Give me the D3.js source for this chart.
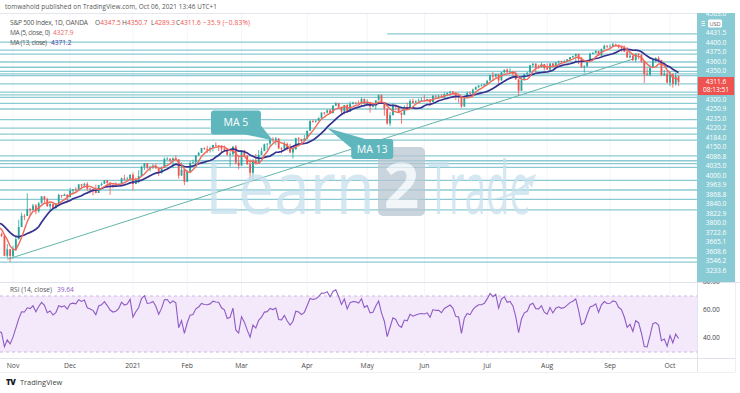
<!DOCTYPE html>
<html><head><meta charset="utf-8">
<script src="https://cdn.jsdelivr.net/npm/d3@7"></script>
<style>html,body{margin:0;padding:0;background:#fff;overflow:hidden}svg{display:block;font-family:"Open Sans",Roboto,"DejaVu Sans",sans-serif}</style>
</head><body><svg id="c" width="740" height="393"></svg>
<script>
// ---------- DATA ----------
const months = ["2020-09","2020-10","2020-11","2020-12","2021-01","2021-02","2021-03","2021-04","2021-05","2021-06","2021-07","2021-08","2021-09","2021-10"];
const tradingDays = [
 [1,2,3,4,8,9,10,11,14,15,16,17,18,21,22,23,24,25,28,29,30],
 [1,2,5,6,7,8,9,12,13,14,15,16,19,20,21,22,23,26,27,28,29,30],
 [2,3,4,5,6,9,10,11,12,13,16,17,18,19,20,23,24,25,27,30],
 [1,2,3,4,7,8,9,10,11,14,15,16,17,18,21,22,23,24,28,29,30,31],
 [4,5,6,7,8,11,12,13,14,15,19,20,21,22,25,26,27,28,29],
 [1,2,3,4,5,8,9,10,11,12,16,17,18,19,22,23,24,25,26],
 [1,2,3,4,5,8,9,10,11,12,15,16,17,18,19,22,23,24,25,26,29,30,31],
 [1,5,6,7,8,9,12,13,14,15,16,19,20,21,22,23,26,27,28,29,30],
 [3,4,5,6,7,10,11,12,13,14,17,18,19,20,21,24,25,26,27,28],
 [1,2,3,4,7,8,9,10,11,14,15,16,17,18,21,22,23,24,25,28,29,30],
 [1,2,6,7,8,9,12,13,14,15,16,19,20,21,22,23,26,27,28,29,30],
 [2,3,4,5,6,9,10,11,12,13,16,17,18,19,20,23,24,25,26,27,30,31],
 [1,2,3,7,8,9,10,13,14,15,16,17,20,21,22,23,24,27,28,29,30],
 [1,4,5,6]
];
const closes = [
 3526,3580,3455,3427,3331,3399,3339,3341,3383,3401,3385,3357,3319,3281,3315,3237,3247,3298,3351,3335,3363,
 3381,3348,3408,3361,3419,3446,3477,3534,3512,3489,3483,3483,3427,3443,3436,3453,3465,3401,3391,3271,3310,3270,
 3310,3370,3443,3510,3509,3550,3545,3572,3537,3585,3627,3610,3567,3582,3558,3577,3635,3629,3638,3622,
 3662,3669,3666,3699,3692,3702,3673,3668,3663,3647,3695,3702,3722,3709,3694,3687,3691,3703,3735,3727,3732,3756,
 3701,3726,3748,3804,3825,3799,3801,3810,3795,3768,3798,3851,3853,3841,3855,3849,3751,3787,3714,
 3774,3826,3830,3872,3887,3916,3911,3910,3916,3935,3932,3931,3913,3906,3876,3881,3925,3829,3811,
 3901,3870,3820,3768,3842,3821,3875,3898,3939,3943,3969,3963,3974,3915,3913,3941,3911,3889,3910,3975,3971,3959,3973,
 4020,4078,4074,4080,4097,4129,4128,4142,4125,4170,4185,4163,4135,4174,4135,4180,4188,4187,4183,4211,4181,
 4192,4165,4168,4202,4233,4189,4152,4063,4113,4174,4164,4128,4116,4160,4156,4198,4188,4196,4201,4204,
 4202,4208,4192,4230,4227,4228,4220,4239,4247,4255,4247,4224,4222,4166,4224,4246,4242,4266,4281,4291,4291,4298,
 4320,4352,4344,4358,4321,4370,4385,4369,4374,4361,4327,4259,4323,4359,4368,4412,4422,4401,4400,4419,4395,
 4387,4423,4403,4429,4437,4432,4436,4448,4461,4468,4480,4449,4400,4406,4442,4480,4486,4497,4470,4509,4529,4523,
 4524,4537,4535,4520,4514,4493,4459,4469,4443,4481,4474,4433,4358,4355,4396,4449,4455,4443,4353,4360,4308,
 4357,4301,4346,4311.6
];
// candles are shown from this date on (highs / lows listed from it)
const candleStart = "2020-10-26";
const highs = [
 3466,3410,3392,3342,3312,
 3331,3389,3486,3529,3521,3645,3557,3582,3581,3593,3628,3623,3619,3585,3582,3589,3643,3635,3644,3638,
 3678,3670,3682,3699,3700,3708,3712,3678,3670,3697,3695,3711,3725,3726,3712,3698,3711,3703,3740,3756,3744,3760,
 3770,3739,3783,3811,3826,3818,3811,3820,3823,3797,3805,3860,3862,3852,3860,3871,3850,3830,3786,
 3784,3836,3847,3872,3894,3917,3920,3930,3925,3935,3950,3933,3931,3932,3917,3895,3928,3934,3862,
 3904,3906,3875,3849,3851,3881,3904,3918,3943,3944,3970,3982,3983,3970,3922,3956,3949,3942,3919,3978,3982,3969,3994,
 4020,4084,4087,4087,4099,4129,4131,4148,4151,4173,4191,4180,4164,4175,4179,4195,4194,4193,4201,4218,4212,
 4209,4193,4187,4202,4238,4237,4190,4153,4131,4183,4175,4170,4129,4172,4188,4210,4213,4202,4213,4218,
 4234,4213,4208,4233,4232,4237,4238,4250,4249,4256,4257,4252,4232,4223,4226,4256,4256,4273,4286,4292,4300,4302,
 4321,4356,4372,4361,4358,4372,4386,4393,4394,4376,4376,4327,4337,4360,4370,4415,4423,4423,4416,4430,4420,
 4423,4424,4424,4430,4440,4440,4446,4449,4461,4469,4481,4481,4462,4412,4445,4489,4492,4502,4498,4513,4536,4531,
 4538,4546,4541,4535,4522,4530,4521,4492,4485,4485,4485,4477,4434,4395,4417,4453,4460,4466,4444,4385,4380,
 4376,4365,4369,4350.7
];
const lows = [
 3379,3382,3268,3258,3234,
 3255,3300,3370,3443,3484,3509,3511,3543,3520,3529,3585,3588,3566,3543,3556,3552,3576,3618,3629,3595,
 3622,3645,3657,3665,3678,3678,3660,3645,3633,3645,3647,3688,3702,3685,3636,3676,3687,3689,3703,3723,3727,3726,
 3663,3700,3705,3748,3784,3789,3776,3791,3792,3749,3763,3798,3845,3830,3795,3847,3732,3750,3694,
 3714,3774,3825,3820,3873,3887,3906,3887,3890,3895,3924,3898,3885,3898,3870,3806,3866,3818,3789,
 3811,3866,3816,3723,3724,3819,3821,3875,3898,3905,3923,3950,3935,3910,3885,3907,3901,3888,3854,3905,3938,3944,3959,
 3976,4020,4068,4068,4080,4087,4115,4124,4120,4125,4170,4150,4119,4118,4126,4134,4177,4181,4175,4176,4174,
 4179,4128,4160,4147,4202,4188,4110,4056,4048,4113,4143,4126,4062,4114,4151,4156,4182,4187,4191,4202,
 4198,4197,4168,4192,4217,4212,4218,4220,4233,4229,4242,4203,4188,4157,4162,4217,4238,4242,4266,4274,4285,4285,
 4297,4320,4322,4340,4290,4321,4365,4368,4365,4345,4325,4233,4258,4320,4350,4368,4400,4370,4391,4400,4382,
 4384,4376,4398,4402,4420,4425,4430,4434,4435,4456,4436,4418,4398,4367,4402,4442,4478,4482,4468,4466,4508,4513,
 4519,4522,4525,4513,4493,4492,4457,4455,4437,4430,4448,4427,4306,4350,4346,4396,4428,4430,4347,4348,4305,
 4288,4278,4290,4289.3
];
// horizontal support / resistance lines (price, start date or null = full width)
const levelPrices = [4600,4551,4503,4479,4431.5,4400,4375,4360,4350,4300,4250.9,4235,4220.2,4184,4150,4086.8,4035,4000,3963.9,3868.8,3840,3822.9,3800,3722.6,3665.1,3608.6,3546.2,3258,3233.6];
const levelStarts = ["2021-05-12",null,null,null,null,null,null,null,null,null,null,null,null,null,null,null,null,null,null,null,null,null,null,null,null,null,null,null,null];
// labels stacked on the price axis (the first one is cut by the top edge)
const axisLabels = ["4503.0","4431.5","4400.0","4375.0","4360.0","4350.0","4300.0","4250.9","4235.0","4220.2","4184.0","4150.0","4086.8","4035.0","4000.0","3963.9","3868.8","3840.0","3822.9","3800.0","3722.6","3665.1","3608.6","3546.2","3233.6"];
const trendDates = ["2020-10-29","2021-09-14"];
const trendPrices = [3250,4449];
const priceDomain = [3114,4719];
const monthTicks = ["2020-11-02","2020-12-01","2021-01-04","2021-02-01","2021-03-01","2021-04-01","2021-05-03","2021-06-01","2021-07-01","2021-08-02","2021-09-01","2021-10-01"];
const monthTickLabels = ["Nov","Dec","2021","Feb","Mar","Apr","May","Jun","Jul","Aug","Sep","Oct"];
const rsiTicks = [80,60,40];
const rsiLastLabel = "39.64";
const lastPrice = "4311.6", countdown = "08:13:51";
const callouts = [{label:"MA 5",date:"2021-03-16",price:3962},{label:"MA 13",date:"2021-04-13",price:4036}];

// ---------- BUILD ----------
const svg = d3.select("#c");
const paneR = 697, mainT = 14, mainB = 282, rsiT = 283, rsiB = 357;
const dates = [];
months.forEach((m,k)=>tradingDays[k].forEach(d=>dates.push(m+"-"+String(d).padStart(2,"0"))));
const N = dates.length;
const idx = d => dates.indexOf(d);
const x = d3.scaleLinear().domain([idx(monthTicks[0]), idx(monthTicks[monthTicks.length-1])]).range([13,670]);
const y = d3.scaleLinear().domain(priceDomain).range([mainB, mainT]);
const yR = d3.scaleLinear().domain([30,70]).range([352,296]);

const defs = svg.append("defs");
defs.append("clipPath").attr("id","cm").append("rect").attr("x",0).attr("y",mainT).attr("width",paneR).attr("height",mainB-mainT);
defs.append("clipPath").attr("id","cr").append("rect").attr("x",0).attr("y",rsiT).attr("width",paneR).attr("height",rsiB-rsiT);
defs.append("clipPath").attr("id","ca").append("rect").attr("x",697).attr("y",13).attr("width",38).attr("height",269);

// header
svg.append("text").attr("x",5).attr("y",9).attr("font-size",6.4).attr("fill","#555").attr("textLength",212)
  .text("tomwahold published on TradingView.com, Oct 06, 2021 13:46 UTC+1");
svg.append("line").attr("x1",0).attr("x2",paneR).attr("y1",13.5).attr("y2",13.5).attr("stroke","#e3e6ec");

// grid
const grid = svg.append("g");
monthTicks.forEach(d=>{
  grid.append("line").attr("x1",x(idx(d))).attr("x2",x(idx(d))).attr("y1",mainT).attr("y2",rsiB).attr("stroke","#f3f5f9");
});

// RSI pane background
svg.append("rect").attr("x",0).attr("width",paneR).attr("y",yR(70)).attr("height",yR(30)-yR(70)).attr("fill","#f4e8fb");
[70,30].forEach(v=>svg.append("line").attr("x1",0).attr("x2",paneR).attr("y1",yR(v)).attr("y2",yR(v))
  .attr("stroke","#cdb6e0").attr("stroke-dasharray","3,3"));

// main pane
const gm = svg.append("g").attr("clip-path","url(#cm)");
levelPrices.forEach((p,k)=>{
  const x0 = levelStarts[k] ? x(idx(levelStarts[k])) : 0;
  gm.append("line").attr("x1",x0).attr("x2",paneR).attr("y1",y(p)).attr("y2",y(p))
    .attr("stroke","#8ccad3").attr("stroke-width",1.3);
});
gm.append("line").attr("x1",x(idx(trendDates[0]))).attr("y1",y(trendPrices[0]))
  .attr("x2",x(idx(trendDates[1]))).attr("y2",y(trendPrices[1])).attr("stroke","#62b5aa").attr("stroke-width",1);

// candles
const cs = idx(candleStart);
const up = "#26a69a", dn = "#ef5350";
const gc = gm.append("g");
highs.forEach((h,j)=>{
  const i = cs+j, o = closes[i-1], c = closes[i], l = lows[j];
  const col = c >= o ? up : dn, cx = x(i);
  gc.append("line").attr("x1",cx).attr("x2",cx).attr("y1",y(Math.max(h,o,c))).attr("y2",y(Math.min(l,o,c)))
    .attr("stroke",col).attr("stroke-width",0.8);
  const yt = y(Math.max(o,c)), yb = y(Math.min(o,c));
  gc.append("rect").attr("x",cx-0.9).attr("width",1.8).attr("y",yt).attr("height",Math.max(0.8,yb-yt)).attr("fill",col);
});

// moving averages
function sma(n){return closes.map((v,i)=> i<n-1 ? null : d3.mean(closes.slice(i-n+1,i+1)));}
const ma5 = sma(5), ma13 = sma(13);
const lineGen = arr => d3.line().defined((d,i)=>arr[i]!=null && i>=cs-3).x((d,i)=>x(i)).y((d,i)=>y(arr[i]))(arr);
gm.append("path").attr("d",lineGen(ma13)).attr("fill","none").attr("stroke","#35328f").attr("stroke-width",1.7);
gm.append("path").attr("d",lineGen(ma5)).attr("fill","none").attr("stroke","#f2685a").attr("stroke-width",1.4);

// watermark
const wm = svg.append("g").attr("opacity",0.75);
wm.append("text").attr("x",205).attr("y",214).attr("font-size",74).attr("fill","#c8e1ee")
  .attr("textLength",170).attr("lengthAdjust","spacingAndGlyphs").text("Learn");
wm.append("rect").attr("x",378).attr("y",147).attr("width",47).attr("height",69).attr("rx",5).attr("fill","#b9c6d2");
wm.append("text").attr("x",401.5).attr("y",208).attr("text-anchor","middle").attr("font-size",62).attr("font-weight",700).attr("fill","#eef4f8").text("2");
wm.append("text").attr("x",428).attr("y",214).attr("font-size",74).attr("fill","#c8e1ee")
  .attr("textLength",103).attr("lengthAdjust","spacingAndGlyphs").text("Trade");
wm.append("path").attr("d","M488,200 Q512,196 528,181 L522,180 L536,174 L532,188 L529,184 Q512,200 488,200Z").attr("fill","#c8e1ee");

// callouts
const cc = "#5fb6bd";
const cA = callouts[0], tA = [x(idx(cA.date)), y(cA.price)];
const bA = {x:tA[0]-62, y:tA[1]-30, w:50, h:24};
svg.append("path").attr("d",`M${bA.x+bA.w-16},${bA.y+bA.h} L${bA.x+bA.w},${bA.y+bA.h-9} L${tA[0]},${tA[1]} Z`).attr("fill",cc);
svg.append("rect").attr("x",bA.x).attr("y",bA.y).attr("width",bA.w).attr("height",bA.h).attr("rx",3).attr("fill",cc);
svg.append("text").attr("x",bA.x+bA.w/2).attr("y",bA.y+bA.h/2+3.6).attr("text-anchor","middle").attr("font-size",10.5).attr("fill","#fff").text(cA.label);
const cB = callouts[1], tB = [x(idx(cB.date)), y(cB.price)];
const bB = {x:tB[0]+24, y:tB[1]+11, w:42, h:20};
svg.append("path").attr("d",`M${bB.x},${bB.y+9} L${bB.x+14},${bB.y} L${tB[0]},${tB[1]} Z`).attr("fill",cc);
svg.append("rect").attr("x",bB.x).attr("y",bB.y).attr("width",bB.w).attr("height",bB.h).attr("rx",3).attr("fill",cc);
svg.append("text").attr("x",bB.x+bB.w/2).attr("y",bB.y+bB.h/2+3.6).attr("text-anchor","middle").attr("font-size",10.5).attr("fill","#fff").text(cB.label);

// legend
const fs = 6.6;
function piece(xx,yy,txt,col,len){const t=svg.append("text").attr("x",xx).attr("y",yy).attr("font-size",fs).attr("fill",col).text(txt); if(len) t.attr("textLength",len); return t;}
piece(10,25,"S&P 500 Index, 1D, OANDA","#555",78);
const red = "#ef5350";
[["O","4347.5",95],["H","4350.7",122],["L","4289.3",151],["C","4311.6",176]].forEach(([k,v,xx])=>{
  const t = svg.append("text").attr("x",xx).attr("y",25).attr("font-size",fs).attr("fill","#555");
  t.append("tspan").text(k); t.append("tspan").attr("fill",red).text(v);
});
piece(203,25,"\u221235.9 (\u22120.83%)",red,47);
piece(10,35,"MA (5, close, 0)","#555",40); piece(53,35,"4327.9","#f2685a");
piece(10,45,"MA (13, close)","#555",37); piece(51,45,"4371.2","#3d3a9c");

// price axis
svg.append("rect").attr("x",697).attr("y",13).attr("width",38).attr("height",269).attr("fill","#88cbd4");
const ga = svg.append("g").attr("clip-path","url(#ca)");
axisLabels.forEach((s,k)=>{
  let slot = k===0 ? -2 : k-1; if (slot>=5) slot += 2;
  ga.append("text").attr("x",716).attr("y",33+slot*9.5+2.3).attr("text-anchor","middle").attr("font-size",6.6).attr("fill","#fff").text(s);
});
svg.append("rect").attr("x",708).attr("y",19.5).attr("width",14).attr("height",8).attr("rx",1.5).attr("fill","#fff");
svg.append("text").attr("x",715).attr("y",25.8).attr("text-anchor","middle").attr("font-size",5.6).attr("fill","#666").text("USD");
[21.5,23.5,25.5].forEach(v=>svg.append("line").attr("x1",701.5).attr("x2",705).attr("y1",v).attr("y2",v).attr("stroke","#fff").attr("stroke-width",0.8));
const pY = y(+lastPrice);
svg.append("rect").attr("x",698).attr("y",pY-5).attr("width",36).attr("height",18).attr("fill","#ef5350");
svg.append("text").attr("x",716).attr("y",pY+2.3).attr("text-anchor","middle").attr("font-size",6.6).attr("fill","#fff").text(lastPrice);
svg.append("text").attr("x",716).attr("y",pY+10).attr("text-anchor","middle").attr("font-size",6.6).attr("fill","#fff").text(countdown);

// pane separators
svg.append("line").attr("x1",0).attr("x2",740).attr("y1",282.5).attr("y2",282.5).attr("stroke","#e0e3eb");
svg.append("line").attr("x1",0).attr("x2",735).attr("y1",358.5).attr("y2",358.5).attr("stroke","#e0e3eb");
svg.append("line").attr("x1",0).attr("x2",735).attr("y1",372.5).attr("y2",372.5).attr("stroke","#eef0f4");
svg.append("line").attr("x1",697.5).attr("x2",697.5).attr("y1",283).attr("y2",372).attr("stroke","#e0e3eb");
svg.append("line").attr("x1",735.5).attr("x2",735.5).attr("y1",283).attr("y2",372).attr("stroke","#eef0f4");

// RSI (Wilder, 14)
const ch = closes.map((v,i)=> i ? v-closes[i-1] : 0);
const rsi = new Array(N).fill(null);
let ag = d3.mean(ch.slice(1,15).map(v=>Math.max(v,0))), al = d3.mean(ch.slice(1,15).map(v=>Math.max(-v,0)));
rsi[14] = 100-100/(1+ag/al);
for (let i=15;i<N;i++){ ag=(ag*13+Math.max(ch[i],0))/14; al=(al*13+Math.max(-ch[i],0))/14; rsi[i]=100-100/(1+ag/al); }
const gr = svg.append("g").attr("clip-path","url(#cr)");
gr.append("path").attr("d", d3.line().defined((d,i)=>d!=null && i>=cs-3).x((d,i)=>x(i)).y(d=>yR(d))(rsi))
  .attr("fill","none").attr("stroke","#8e5cc4").attr("stroke-width",1.1);
svg.append("text").attr("x",10).attr("y",292).attr("font-size",fs).attr("fill","#555").attr("textLength",42).text("RSI (14, close)");
svg.append("text").attr("x",57).attr("y",292).attr("font-size",fs).attr("fill","#8e5cc4").text(rsiLastLabel);
rsiTicks.forEach(v=>svg.append("text").attr("x",703).attr("y",yR(v)+2.3).attr("font-size",6.6).attr("fill","#444").text(d3.format(".2f")(v)));
svg.append("rect").attr("x",697).attr("y",276).attr("width",38).attr("height",6).attr("fill","#88cbd4");

// time axis
monthTicks.forEach((d,k)=>svg.append("text").attr("x",x(idx(d))).attr("y",367.5).attr("text-anchor","middle")
  .attr("font-size",6.8).attr("fill","#4a4a4a").text(monthTickLabels[k]));

// footer logo
svg.append("text").attr("x",6).attr("y",385).attr("font-size",8).attr("font-weight",900).attr("fill","#131722").attr("letter-spacing",-0.6).text("TV");
svg.append("text").attr("x",20).attr("y",385).attr("font-size",7.4).attr("fill","#444").text("TradingView");
</script></body></html>
